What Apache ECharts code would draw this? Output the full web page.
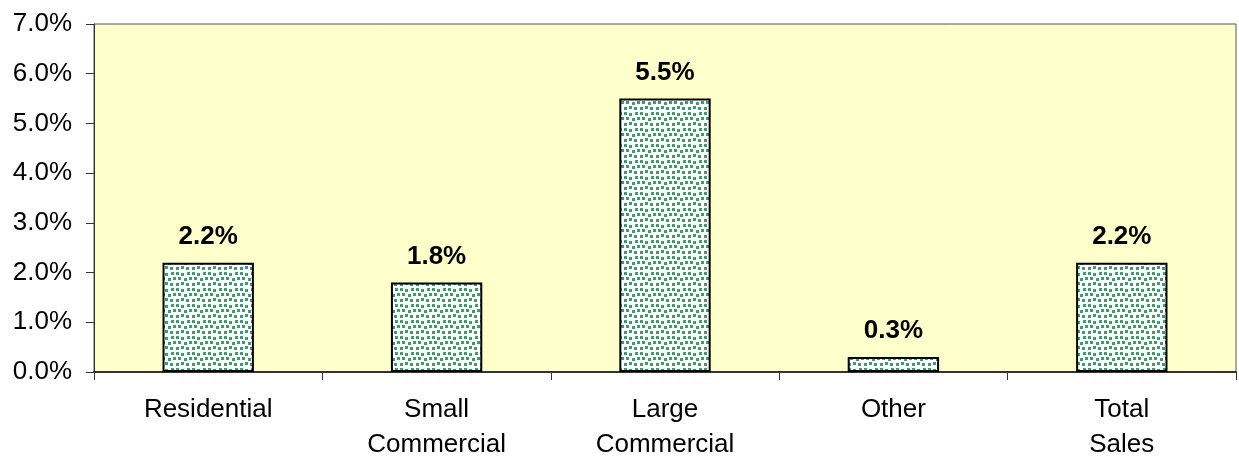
<!DOCTYPE html>
<html>
<head>
<meta charset="utf-8">
<script src="https://cdn.jsdelivr.net/npm/echarts@6/dist/echarts.min.js"></script>
<style>
  html, body { margin: 0; padding: 0; background: #ffffff; }
  #chart { width: 1239px; height: 462px; }
</style>
</head>
<body>
<div id="chart"></div>
<script>
// Growth by customer class (percent)
const categories = ['Residential', 'Small\nCommercial', 'Large\nCommercial', 'Other', 'Total\nSales'];
const growthValues = [2.2, 1.8, 5.5, 0.3, 2.2];
const yTicks = { min: 0, max: 7, interval: 1 };

// Small tile of green speckles on white, repeated to fill each bar
function speckleTile() {
  const size = 16;
  const c = document.createElement('canvas');
  c.width = size; c.height = size;
  const g = c.getContext('2d');
  g.fillStyle = '#ffffff';
  g.fillRect(0, 0, size, size);
  g.fillStyle = '#3c9e6e';
  const dots = [[0,0],[5,1],[11,0],[2,5],[8,6],[13,5],[0,11],[5,10],[10,11]];
  dots.forEach(([x, y]) => g.fillRect(x, y, 3, 3));
  return c;
}

const chart = echarts.init(document.getElementById('chart'), null, { renderer: 'canvas' });
const font = '"Liberation Sans", Arial, sans-serif';

chart.setOption({
  animation: false,
  grid: {
    left: 94, right: 3, top: 24, bottom: 88,
    show: true,
    backgroundColor: '#ffffcc',
    borderColor: '#555555',
    borderWidth: 1
  },
  xAxis: {
    type: 'category',
    data: categories,
    boundaryGap: true,
    axisLine: { lineStyle: { color: '#333333', width: 2 } },
    axisTick: { show: true, length: 8, lineStyle: { color: '#333333', width: 1 } },
    axisLabel: {
      color: '#000000', fontFamily: font, fontSize: 26, lineHeight: 35,
      margin: 20, interval: 0
    }
  },
  yAxis: {
    type: 'value',
    min: yTicks.min, max: yTicks.max, interval: yTicks.interval,
    axisLine: { show: true, lineStyle: { color: '#333333', width: 1 } },
    axisTick: { show: true, length: 8, lineStyle: { color: '#333333' } },
    splitLine: { show: false },
    axisLabel: {
      color: '#000000', fontFamily: font, fontSize: 26, margin: 22,
      formatter: v => v.toFixed(1) + '%'
    }
  },
  series: [{
    type: 'bar',
    data: growthValues,
    barWidth: '40%',
    itemStyle: {
      color: { image: speckleTile(), repeat: 'repeat' },
      borderColor: '#000000',
      borderWidth: 2
    },
    label: {
      show: true,
      position: 'top',
      distance: 13,
      color: '#000000',
      fontFamily: font,
      fontSize: 26,
      fontWeight: 'bold',
      formatter: p => p.value.toFixed(1) + '%'
    }
  }]
});
</script>
</body>
</html>
